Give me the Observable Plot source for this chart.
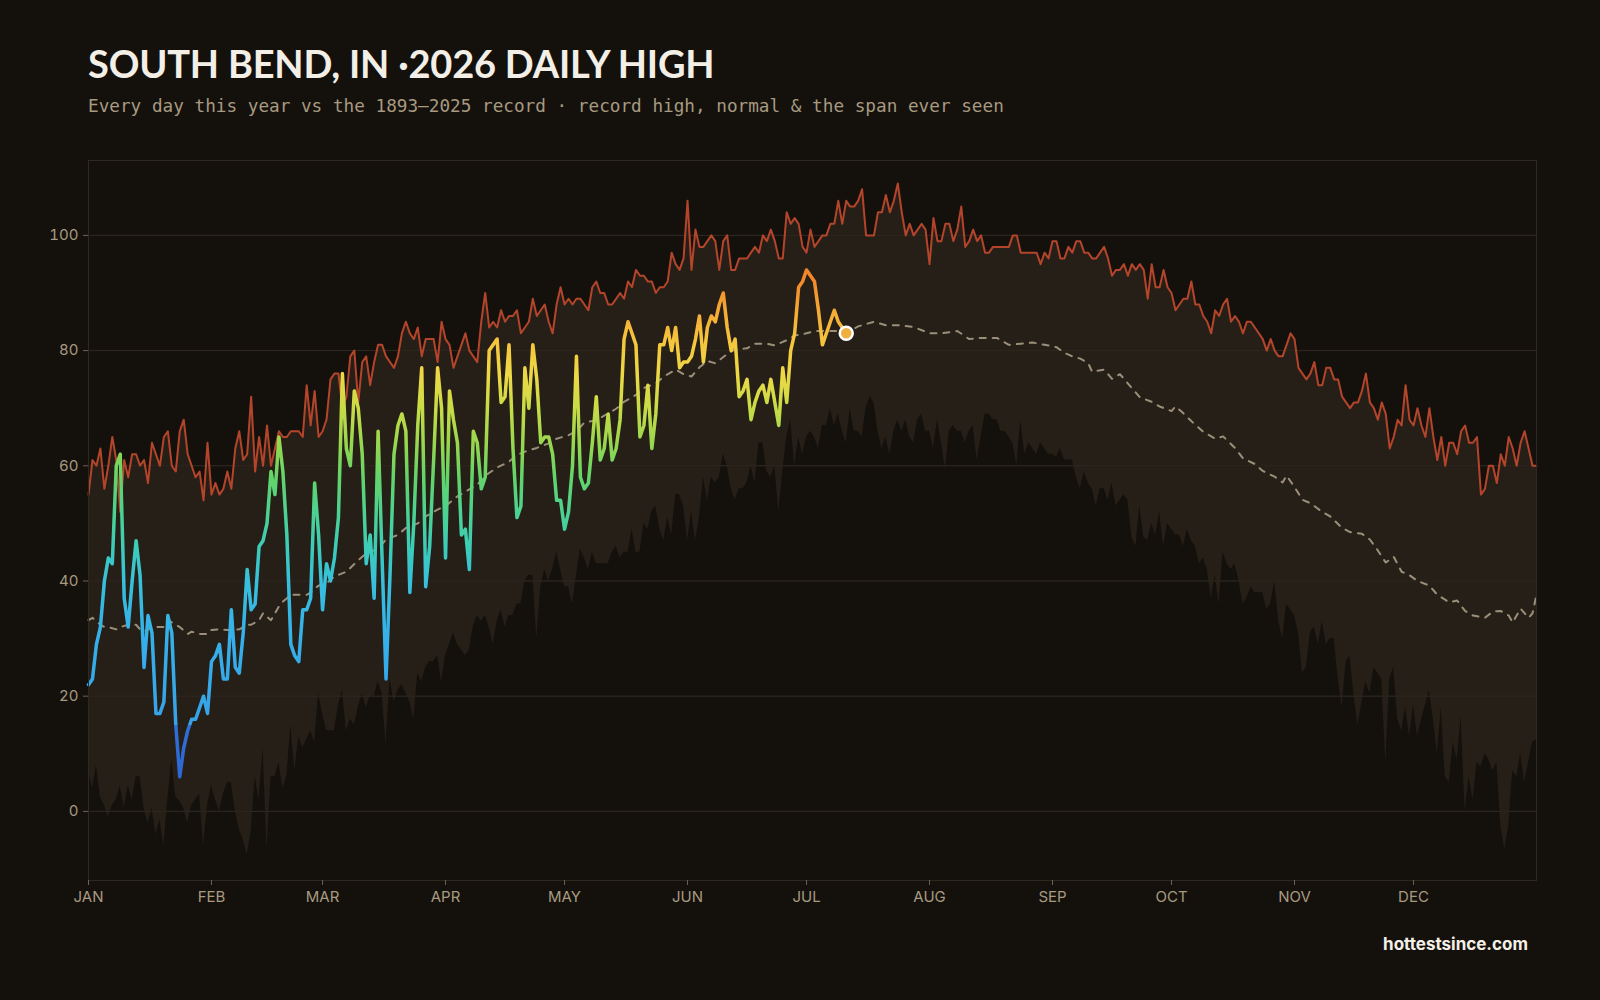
<!DOCTYPE html>
<html>
<head>
<meta charset="utf-8">
<script src="https://cdn.jsdelivr.net/npm/d3@7"></script>
<script src="https://cdn.jsdelivr.net/npm/@observablehq/plot@0.6"></script>
<style>
  html, body { margin: 0; padding: 0; background: #14110d; }
  #page { position: relative; width: 1600px; height: 1000px; background: #14110d; overflow: hidden; }
  #title { position: absolute; left: 88px; top: 39px; font-family: Lato, "Noto Sans", sans-serif; font-weight: 700;
           font-size: 38px; line-height: 48px; color: #f3efe7; letter-spacing: -0.2px; white-space: nowrap; }
  #subtitle { position: absolute; left: 88px; top: 94px; font-family: "DejaVu Sans Mono", monospace; font-size: 17.7px;
              line-height: 24px; color: #a89a80; white-space: nowrap; }
  #credit { position: absolute; right: 72px; top: 932px; font-family: Inter, "Noto Sans", sans-serif; font-weight: 700;
            font-size: 17px; line-height: 24px; color: #f4f0e8; white-space: nowrap; }
  #chart { position: absolute; left: 0; top: 0; }
</style>
</head>
<body>
<div id="page">
  <div id="chart"></div>
  <div id="title">SOUTH BEND, IN ·2026 DAILY HIGH</div>
  <div id="subtitle">Every day this year vs the 1893–2025 record · record high, normal &amp; the span ever seen</div>
  <div id="credit">hottestsince.com</div>
</div>
<script>
// Daily highs for 2026 so far (°F), starting Jan 1
const high2026 = [
  22,23,29,32,40,44,43,60,62,37,32,40,47,41,25,34,31,17,17,19,
  34,31,15,6,11,14,16,16,18,20,17,26,27,29,23,23,35,25,24,31,
  42,35,36,46,47,50,59,55,65,59,48,29,27,26,35,35,37,57,48,35,
  43,40,44,51,76,63,60,73,70,62,43,48,37,66,44,23,41,62,67,69,
  66,38,50,67,77,39,46,61,77,70,44,73,68,64,48,49,42,66,64,56,
  58,80,81,82,71,72,81,63,51,53,77,70,81,75,64,65,65,62,54,54,
  49,52,60,79,58,56,57,64,72,61,63,69,61,63,68,82,85,83,81,65,
  67,74,63,69,81,81,84,80,84,77,78,78,79,82,86,78,84,86,85,88,
  90,84,80,82,72,73,75,68,71,73,74,71,75,71,67,77,71,80,83,91,
  92,94,93,92,87,81,83,85,87,85,84,83
];

// Record daily high by day of year, 1893–2025 (°F)
const recordHigh = [
  55,61,60,63,56,60,65,61,52,61,58,62,62,60,61,57,64,62,60,65,
  66,60,59,66,68,62,60,58,59,54,64,55,57,55,56,59,56,63,66,61,
  62,72,59,65,60,67,60,63,66,65,65,66,66,66,65,74,67,73,65,66,
  68,75,76,76,70,72,79,80,71,78,79,74,78,81,81,79,78,77,79,83,
  85,83,82,84,79,82,82,82,78,85,82,81,77,79,81,83,80,79,78,85,
  90,84,85,84,87,85,86,86,87,83,84,85,89,86,87,88,85,83,88,91,
  88,89,88,89,89,88,87,91,92,90,90,88,88,89,90,89,92,91,94,93,
  93,92,92,90,91,91,92,97,95,94,96,106,94,101,98,98,99,100,99,94,
  99,100,94,94,96,96,96,97,98,97,100,99,101,99,96,96,104,102,103,102,
  98,97,101,98,99,100,100,102,102,106,102,106,105,105,106,108,100,100,100,104,
  104,107,104,106,109,104,100,102,100,101,102,101,95,103,99,99,102,102,99,101,
  105,98,99,101,99,100,97,97,98,98,98,98,98,100,100,97,97,97,97,97,
  95,97,96,99,99,96,96,98,97,99,99,97,97,96,96,97,98,96,93,94,
  94,95,93,95,94,95,94,89,95,91,91,94,91,90,87,88,89,89,92,88,
  88,86,85,83,87,86,88,89,85,86,85,83,85,85,84,83,82,80,82,80,
  79,79,81,83,82,77,76,75,76,78,74,74,77,77,75,75,72,71,70,71,
  71,73,76,71,70,68,71,69,63,65,68,67,74,68,67,70,67,65,70,65,
  61,65,60,64,64,62,66,67,64,64,65,55,56,60,60,57,62,60,65,63,
  60,64,66,63,60,60
];

// Record daily low of the daily high by day of year, 1893–2025 (°F)
const recordLow = [
  7,4,8,2.5,1,-1,1,2,4.5,0.6,4.5,2,6,6,0.6,-2,0.6,-4,-1.4,-6,
  2,9,2.5,1.8,0.5,-2,1,2,3,-6,1,4.5,2,0,3,5,5,0,-3,-5,
  -7.5,-3.5,6,2,11,-6.5,6,6,8.5,4,6,15,7,13,11,12.5,14,12,20.5,17,
  14,14,14,18.5,21,14,16,15,18,20.5,18,20,20,22.5,20.5,11.7,23,19,21,22,
  20.5,19,16,24,22.5,25,26,26,27,22.5,27,29,31,29,28,27,28,32,34,33,
  34,32,29,33,35,32,34,34,36,36,40,41,41,30,39,42,40,42,45,42,
  39,39,36,41,45.5,44,42,45,43,43,43,43,45,46,44,45,45,49,45,45,
  50,49,52,53,49,47,51,48,55,55,53,47,52,47,51,58,54,58,57,58,
  62,60,56,54,56,56,57,60,57,64,64,59,58,60,52,59,65,68,60,65,
  62,65,66,65,63,67,67,70,67,69,66,64,70,66,66,65,70,72,71,66,
  63,65,62,66,68,66,68,65,64,68,69,66,66,63,68,64,59.5,66,67,66,
  66,64,66,67,61,65,69,69,68,68,66,66,65,64,60,68,62,64,63,62,
  64,63,62,62,61.5,63,61,61,61,58,56,59,57,56,53,56,56,54,57,53,
  54,55,54,47.6,46,53,47.6,47,50,48,52,46,50,49,48,48,46,49,47,46,
  43,44,42,37,41,36,45,43,42,43,40,36,37,39,38,38,38,35,36,40,
  33,30,36,35,34,31,24,25,31,32,29,33,29,30,30,23,18,26,27,20,
  15,19,22.5,20.5,25,24,23,8.5,23,25,16,14,18,13,18.5,13,16,18.5,21,16,
  10,18,6,5,12,9,16.5,0,6,2,8.5,7.7,10,9,7,8.5,-2.6,-6.6,-2.6,7,
  6,10,5,8.5,12,12.5
];

// Normal daily high, read at these days of year (°F)
const normalDay = [
  0,1,3,4,5,7,8,10,12,13,14,16,17,19,20,22,23,25,26,28,30,31,33,35,36,38,40,41,43,44,46,48,49,51,53,55,56,58,60,
  62,65,68,70,73,75,78,80,83,85,88,90,93,95,98,100,103,106,108,111,113,116,118,121,
  123,125,128,130,133,135,138,140,143,145,148,150,152,154,156,158,161,163,166,168,171,173,176,178,181,
  183,186,188,192,194,198,201,204,208,212,215,219,222,225,229,232,235,238,241,244,
  246,248,250,252,253,256,258,260,263,265,268,270,273,274,276,279,281,284,286,289,291,294,296,299,301,302,304,
  306,308,311,313,316,318,321,323,325,327,329,331,333,335,338,340,343,345,347,349,352,354,356,358,359,360,361,363,364,365
];
const normalTemp = [
  33.2,33.6,32.4,32.0,32.0,31.6,32.0,32.4,32.4,31.6,31.2,32.0,32.0,32.0,33.2,32.4,32.0,30.8,31.2,30.8,30.8,31.5,31.6,31.5,31.5,31.6,32.4,32.4,33.2,34.4,33.2,35.6,36.4,37.6,37.6,37.6,38.0,39.2,39.6,
  40.8,41.6,43.6,44.8,45.6,47.2,48.0,49.2,50.0,51.2,52.4,53.0,54.7,55.5,56.7,58.3,59.7,60.7,61.9,62.7,63.1,63.9,64.7,65.3,
  66.0,67.5,67.9,68.7,69.9,71.1,72.3,73.5,74.3,75.5,76.7,75.9,75.5,77.1,78.2,77.8,79.4,80.2,80.4,81.2,81.2,80.9,81.8,82.6,83.0,
  83.4,83.4,83.4,83.4,84.2,85.0,84.4,84.4,84.1,83.0,83.0,83.4,82.0,82.2,82.2,81.0,81.2,81.4,81.0,80.6,
  79.6,79.0,78.6,77.8,76.3,76.7,75.1,75.9,73.5,71.9,71.1,70.3,69.5,70.3,69.1,67.1,65.9,64.7,65.1,63.1,61.3,60.3,59.1,58.1,57.1,58.3,56.3,
  54.1,53.5,52.0,51.2,49.2,48.5,48.2,47.2,45.3,43.2,44.2,41.6,41.0,40.0,39.2,37.6,36.3,36.6,34.8,34.0,33.6,34.7,34.8,34.0,32.8,34.0,35.2,33.6,34.4,37.6
];

// Axis ticks
const monthStarts = [0,31,59,90,120,151,181,212,243,273,304,334];
const monthLabels = ["JAN","FEB","MAR","APR","MAY","JUN","JUL","AUG","SEP","OCT","NOV","DEC"];
const tempTicks = [0,20,40,60,80,100];

// Tables for the marks
const record = recordHigh.map((hi, day) => ({day, hi, lo: recordLow[day]}));
const thisYear = high2026.map((t, day) => ({day, t}));
const normal = normalDay.map((day, i) => ({day, t: normalTemp[i]}));
const latest = thisYear.slice(-1);

// Temperature → colour stops for the 2026 line (°F, colour)
const heatStops = [
  [0, "#2c62d0"], [14.9, "#2f6fd8"], [15.1, "#37a2e8"], [30, "#35b0ea"], [40, "#37c0dc"],
  [46, "#3ccdb8"], [52, "#4cd290"], [58, "#62d46a"], [64, "#98d74e"], [70, "#c8dc46"],
  [76, "#eed846"], [82, "#f6c43c"], [87, "#f5aa34"], [91, "#f28f2d"], [100, "#ec6e24"]
];

const chart = Plot.plot({
  width: 1600,
  height: 915,
  marginTop: 160,
  marginRight: 64,
  marginBottom: 35,
  marginLeft: 88,
  style: {background: "transparent", color: "#a89a80", fontFamily: "Inter, 'Noto Sans', sans-serif", fontSize: "15px", overflow: "visible"},
  x: {domain: [0, 365]},
  y: {domain: [-12, 113]},
  marks: [
    Plot.ruleY(tempTicks, {stroke: "#2a241d", strokeWidth: 1}),
    Plot.areaY(record, {x: "day", y1: "lo", y2: "hi", fill: "#261f17"}),
    Plot.ruleY(tempTicks, {stroke: "#3a3127", strokeWidth: 1, strokeOpacity: 0.45}),
    Plot.line(record, {x: "day", y: "hi", stroke: "#b4452b", strokeWidth: 2}),
    Plot.line(normal, {x: "day", y: "t", stroke: "#9c8f7a", strokeWidth: 2, strokeDasharray: "6,7"}),
    Plot.line(thisYear, {x: "day", y: "t", stroke: "url(#heat)", strokeWidth: 3.5, strokeLinejoin: "round", strokeLinecap: "round"}),
    Plot.dot(latest, {x: "day", y: "t", r: 6.5, fill: "#f0b040", stroke: "#ffffff", strokeWidth: 2.5}),
    Plot.frame({stroke: "#2e2820"}),
    Plot.axisX({ticks: monthStarts, tickFormat: d => monthLabels[monthStarts.indexOf(d)], tickSize: 5, tickPadding: 6, label: null, stroke: "#6e6352"}),
    Plot.axisY({ticks: tempTicks, tickSize: 5, tickPadding: 5, label: null, stroke: "#6e6352"})
  ]
});

// Vertical gradient for the 2026 line, laid out on the y scale
const y = chart.scale("y");
const svg = d3.select(chart);
const grad = svg.insert("defs", ":first-child")
  .append("linearGradient")
  .attr("id", "heat")
  .attr("gradientUnits", "userSpaceOnUse")
  .attr("x1", 0).attr("x2", 0)
  .attr("y1", y.apply(0)).attr("y2", y.apply(100));
grad.selectAll("stop").data(heatStops).join("stop")
  .attr("offset", d => d[0] / 100)
  .attr("stop-color", d => d[1]);

document.getElementById("chart").appendChild(chart);
</script>
</body>
</html>
